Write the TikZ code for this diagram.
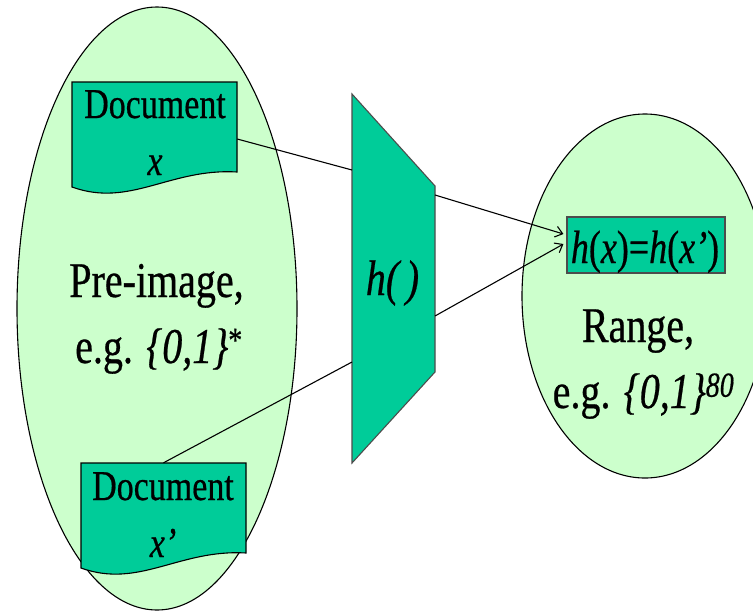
\documentclass[tikz,border=0pt]{standalone}
\usepackage{fontspec}
\setmainfont{Liberation Serif}[FakeBold=0.6]
\usepackage{graphicx}
\usetikzlibrary{arrows.meta, shapes.geometric, calc}
\definecolor{paleset}{HTML}{CCFFCC}
\definecolor{hashgreen}{HTML}{00CC99}
\newcommand{\tall}[1]{\scalebox{1}[1.25]{#1}}

\begin{document}
\begin{tikzpicture}[x=1pt,y=-1pt,
  setfill/.style={ellipse,draw=black,line width=1.1pt,fill=paleset,inner sep=0pt},
  docfill/.style={draw=black,line width=1.1pt,fill=hashgreen},
  big/.style={anchor=base,inner sep=0pt,font=\fontsize{40}{48}\selectfont},
  mid/.style={anchor=base,inner sep=0pt,font=\fontsize{34}{40}\selectfont},
  arr/.style={line width=1.1pt,-{Straight Barb[length=7pt,width=11pt]}}]
  \clip (0,0) rectangle (753,611);
  % the two sets
  \node[setfill,minimum width=280,minimum height=603] (pre) at (157,308.5) {};
  \node[setfill,minimum width=246,minimum height=364] (rng) at (645,296) {};
  % documents
  \draw[docfill] (72,82)--(237,82)--(237,172) .. controls (170,168) and (130,208) .. (72,187)--cycle;
  \draw[docfill,shift={(9,381)}] (72,82)--(237,82)--(237,172) .. controls (170,168) and (130,208) .. (72,187)--cycle;
  \node[inner sep=0pt,minimum width=165,minimum height=114] (doc1) at (154.5,139) {};
  \node[inner sep=0pt,minimum width=165,minimum height=114] (doc2) at (163.5,520) {};
  \node[mid] (doc1a) at (155,118) {\tall{Document}};
  \node[mid] (doc1b) at (155,175) {\tall{\textit{x}}};
  \node[mid] (doc2a) at (163,500) {\tall{Document}};
  \node[mid] (doc2b) at (163,557) {\tall{\textit{x’}}};
  % hash function
  \draw[fill=hashgreen,draw=black!70,line width=1.1pt](352,94)--(435,186)--(435,372)--(352,463)--cycle;
  \coordinate (hin1) at (352,170);
  \coordinate (hin2) at (352,362);
  \coordinate (hout1) at (435,195);
  \coordinate (hout2) at (435,316);
  \node[big] (hfun) at (392.5,295) {\tall{\textit{h(\,)}}};
  % collision
  \node[draw=black!70,fill=hashgreen,line width=1.1pt,minimum width=158,minimum height=56,inner sep=0pt] (coll) at (646,245) {};
  \node[anchor=base,inner sep=0pt,font=\fontsize{36}{42}\selectfont] (colltxt) at (645,263) {\scalebox{1}[1.3]{\textit{h}(\textit{x})=\textit{h}(\textit{x’})}};
  % labels
  \node[big] (pre1) at (156.5,297) {\tall{Pre-image,}};
  \node[big] (pre2) at (159,363) {\tall{e.g. \textit{\{0,1\}}\textsuperscript{*}}};
  \node[big] (rng1) at (638,342) {\tall{Range,}};
  \node[big] (rng2) at (643.5,408) {\tall{e.g. \textit{\{0,1\}}\textsuperscript{\textit{80}}}};
  % connectors
  \draw[line width=1.1pt] (doc1.east)--(hin1);
  \draw[line width=1.1pt] (doc2.north)--(hin2);
  \draw[arr] (hout1)--($(coll.west)+(-3,-11)$);
  \draw[arr] (hout2)--($(coll.west)+(-3,-1)$);
\end{tikzpicture}
\end{document}
